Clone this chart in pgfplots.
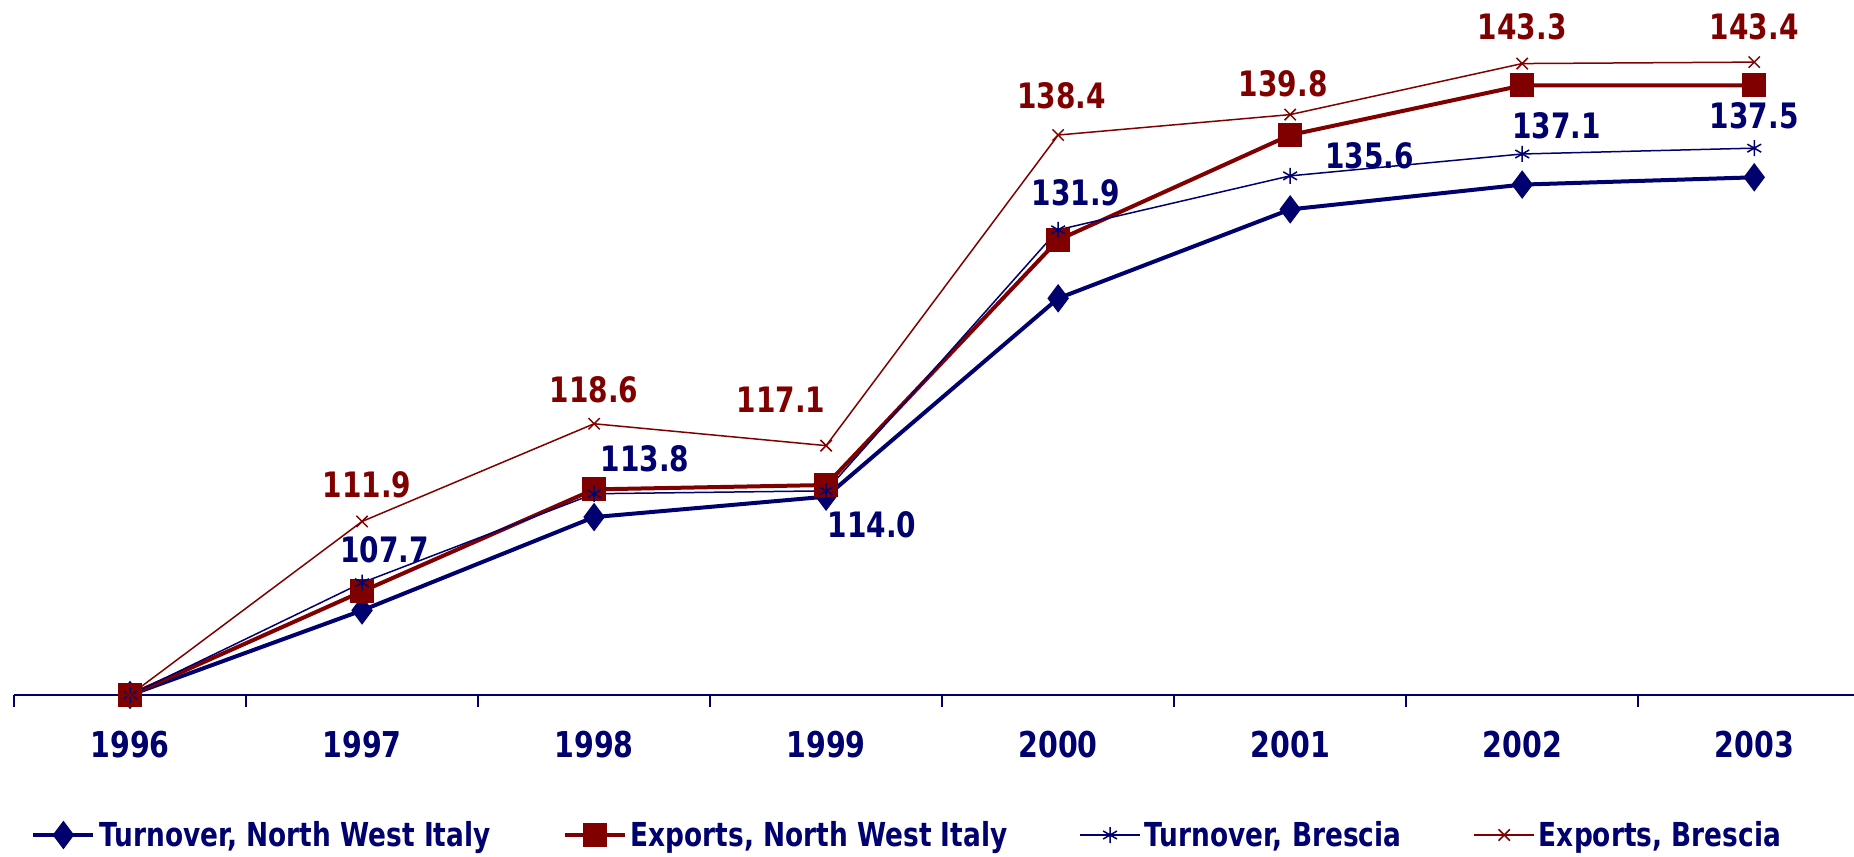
\documentclass[border=0pt]{standalone}
\usepackage{pgfplots}
\pgfplotsset{compat=1.18}
\usepackage{pgfplotstable}
\usepackage{fontspec}
\setmainfont{DejaVu Sans}[FakeStretch=0.8]

\definecolor{navy}{RGB}{0,0,110}
\definecolor{dred}{RGB}{128,0,0}

% index values, 1996 = 100; tdx/tdy and edx/edy shift the Brescia labels (pt)
\pgfplotstableread{
x  tnw    enw    tbs    ebs    tdx   tdy    edx    edy
0  100.0  100.0  100.0  100.0  0     0      0      0
1  105.8  107.1  107.7  111.9  11.2  16.5   2.4    18.3
2  112.2  114.1  113.8  118.6  25.4  17.7   0      17.1
3  113.6  114.4  114.0  117.1  23.0  -17.1  -22.5  23.0
4  127.2  131.2  131.9  138.4  8.9   18.3   1.8    19.5
5  133.3  138.4  135.6  139.8  39.6  10.0   -3.5   15.4
6  135.0  141.8  137.1  143.3  17.1  14.2   0      18.5
7  135.5  141.8  137.5  143.4  0     16.0   0      17.5
}\data

\begin{document}
\begin{tikzpicture}
\begin{axis}[
    scale only axis,
    width=920pt, height=347.5pt,
    xmin=-0.5, xmax=7.43,
    ymin=100, ymax=147.66,
    clip=false,
    axis x line*=bottom,
    hide y axis,
    axis line style={navy, line width=1.1pt, -},
    xtick={0,...,7},
    xticklabels={1996,1997,1998,1999,2000,2001,2002,2003},
    major tick length=0pt,
    minor xtick={-0.5,0.5,...,6.5},
    minor tick length=6pt,
    tick align=outside,
    minor tick style={navy, line width=1pt},
    xticklabel style={font=\fontsize{17.8}{20}\selectfont\bfseries, text=navy,
        inner sep=0pt, anchor=north, yshift=-18pt},
    /pgf/number format/assume math mode=true,
    legend columns=4,
    legend style={at={(axis description cs:0,0)}, anchor=west,
        xshift=8.5pt, yshift=-70pt, draw=none, fill=none, inner sep=0pt,
        font=\fontsize{16.5}{18}\selectfont\bfseries, text=navy,
        /tikz/every even column/.append style={column sep=34pt}},
    legend cell align=left,
    legend image code/.code={
        \draw[mark repeat=2, mark phase=2] plot coordinates {(0pt,0pt) (15pt,0pt) (30pt,0pt)};
    },
    nodes near coords={\pgfmathprintnumber[fixed,fixed zerofill,precision=1]{\pgfplotspointmeta}},
]
\coordinate (tl) at (rel axis cs:0,1);
\coordinate (br) at (rel axis cs:1,0);

\addplot[navy, line width=2pt, mark=diamond*, mark size=5.5pt,
    mark options={solid, fill=navy}, nodes near coords=]
    table[x=x, y=tnw] {\data};
\addlegendentry{Turnover, North West Italy}

\addplot[dred, line width=2pt, mark=square*, mark size=5pt,
    mark options={solid, fill=dred}, nodes near coords=]
    table[x=x, y=enw] {\data};
\addlegendentry{Exports, North West Italy}

\addplot[navy, line width=0.75pt, mark=asterisk, mark size=4pt,
    mark options={solid, line width=0.75pt}, nodes near coords=]
    table[x=x, y=tbs] {\data};
\addlegendentry{Turnover, Brescia}

\addplot[dred, line width=0.75pt, mark=x, mark size=4pt,
    mark options={solid, line width=0.75pt}, nodes near coords=]
    table[x=x, y=ebs] {\data};
\addlegendentry{Exports, Brescia}

% data labels for the Brescia series
\addplot[forget plot, draw=none, no markers, restrict x to domain=1:7,
    point meta=y,
    visualization depends on={\thisrow{tdx} \as \ldx},
    visualization depends on={\thisrow{tdy} \as \ldy},
    every node near coord/.append style={anchor=center, xshift=\ldx pt, yshift=\ldy pt,
        text=navy, font=\fontsize{17.5}{20}\selectfont\bfseries}]
    table[x=x, y=tbs] {\data};

\addplot[forget plot, draw=none, no markers, restrict x to domain=1:7,
    point meta=y,
    visualization depends on={\thisrow{edx} \as \ldx},
    visualization depends on={\thisrow{edy} \as \ldy},
    every node near coord/.append style={anchor=center, xshift=\ldx pt, yshift=\ldy pt,
        text=dred, font=\fontsize{17.5}{20}\selectfont\bfseries}]
    table[x=x, y=ebs] {\data};
\end{axis}
\pgfresetboundingbox
\path ([xshift=-7pt]tl) rectangle ([yshift=-81pt]br);
\end{tikzpicture}
\end{document}
